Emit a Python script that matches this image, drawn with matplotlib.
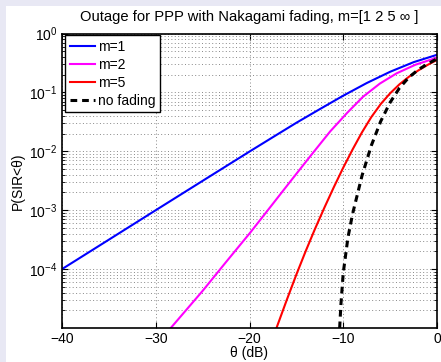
import matplotlib
matplotlib.use("Agg")
import matplotlib.pyplot as plt
from matplotlib.ticker import FixedLocator, FixedFormatter, NullFormatter
from matplotlib.patches import Rectangle

plt.rcParams['font.family'] = ['Liberation Sans', 'DejaVu Sans']
plt.rcParams['mathtext.default'] = 'regular'

# --- Data (theta in dB, outage probability) ---
theta_m1 = [-40, -35, -30, -25, -20, -17.5, -15, -12.5, -10, -7.5, -5, -2.5, 0]
p_m1 = [1.0e-4, 3.16e-4, 1.0e-3, 3.15e-3, 9.9e-3, 0.0174, 0.0305, 0.052, 0.088,
        0.144, 0.224, 0.326, 0.435]

theta_m2 = [-29, -28.4, -25, -22.5, -19.95, -17.5, -15.5, -13.5, -11.4, -9.6, -7.9,
            -6.1, -4.3, -2.3, 0]
p_m2 = [7.8e-6, 1.0e-5, 4.27e-5, 1.32e-4, 4.11e-4, 1.29e-3, 3.29e-3, 8.32e-3, 0.0217,
        0.0447, 0.0841, 0.141, 0.211, 0.295, 0.389]

theta_m5 = [-17.5, -17, -16, -15, -14, -13, -12, -11, -10, -9, -8, -7, -6, -5, -4,
            -3, -2, -1, 0]
p_m5 = [6.8e-6, 1.13e-5, 3.07e-5, 8.08e-5, 2.03e-4, 4.87e-4, 1.115e-3, 2.47e-3,
        5.28e-3, 0.01077, 0.02102, 0.03824, 0.0635, 0.0966, 0.1373, 0.1841, 0.2358,
        0.2934, 0.3548]

theta_nf = [-10.45, -10.25, -10, -9.5, -9, -8, -7, -6, -5, -4, -3, -2, -1, 0]
p_nf = [6.3e-6, 2.5e-5, 8.6e-5, 3.43e-4, 8.7e-4, 3.85e-3, 0.0126, 0.0324, 0.0676,
        0.119, 0.18, 0.243, 0.305, 0.372]

x_ticks = [-40, -30, -20, -10, 0]
x_labels = ['\u221240', '\u221230', '\u221220', '\u221210', '0']
y_ticks = [1e-4, 1e-3, 1e-2, 1e-1, 1e0]
y_labels = ['$10^{-4}$', '$10^{-3}$', '$10^{-2}$', '$10^{-1}$', '$10^{0}$']

W, H = 441, 362
FS = 10
fig = plt.figure(figsize=(W / 100, H / 100), dpi=100, facecolor='#e8e8f4')
# white page with a lavender strip on top/left
fig.patches.append(Rectangle((6 / W, 0), 1, 1 - 6 / H, transform=fig.transFigure,
                             facecolor='white', edgecolor='none', zorder=-1))

ax = fig.add_axes([62 / W, 1 - 328 / H, 375 / W, (328 - 33.5) / H])
ax.set_yscale('log')

ax.plot(theta_m1, p_m1, color='#0000ff', lw=1.5, label='m=1')
ax.plot(theta_m2, p_m2, color='#ff00ff', lw=1.5, label='m=2')
ax.plot(theta_m5, p_m5, color='#ff0000', lw=1.5, label='m=5')
ax.plot(theta_nf, p_nf, color='black', lw=2.2, ls=(0, (2.2, 1.6)), label='no fading')

ax.set_xlim(-40, 0)
ax.set_ylim(1e-5, 1)

ax.xaxis.set_major_locator(FixedLocator(x_ticks))
ax.xaxis.set_major_formatter(FixedFormatter(x_labels))
ax.yaxis.set_major_locator(FixedLocator(y_ticks))
ax.yaxis.set_major_formatter(FixedFormatter(y_labels))
minors = [k * 10.0 ** e for e in range(-5, 0) for k in range(2, 10)]
ax.yaxis.set_minor_locator(FixedLocator(minors))
ax.yaxis.set_minor_formatter(NullFormatter())

ax.grid(True, which='major', axis='both', ls=(0, (1, 2.5)), color='#888888', lw=0.7)
ax.grid(True, which='minor', axis='y', ls=(0, (1, 2.5)), color='#888888', lw=0.7)

ax.tick_params(which='both', direction='in', top=True, right=True, labelsize=FS)
ax.tick_params(axis='x', pad=3)
ax.tick_params(axis='y', pad=3.5)
ax.tick_params(which='major', length=4, width=0.8)
ax.tick_params(which='minor', length=2, width=0.6)
for s in ax.spines.values():
    s.set_linewidth(1.2)

ax.set_title('Outage for PPP with Nakagami fading, m=[1 2 5 \u221e ]', fontsize=10.6, pad=9)
ax.set_xlabel('\u03b8 (dB)', fontsize=FS, labelpad=0)
ax.set_ylabel('P(SIR<\u03b8)', fontsize=FS, labelpad=3)

leg = ax.legend(loc='upper left', bbox_to_anchor=(0.008, 0.995), fontsize=FS,
                fancybox=False, framealpha=1, edgecolor='black', borderaxespad=0,
                handlelength=1.8, handletextpad=0.2, labelspacing=0.28,
                borderpad=0.35)
leg.get_frame().set_linewidth(1.0)

fig.savefig('out.png', dpi=100, facecolor=fig.get_facecolor())
